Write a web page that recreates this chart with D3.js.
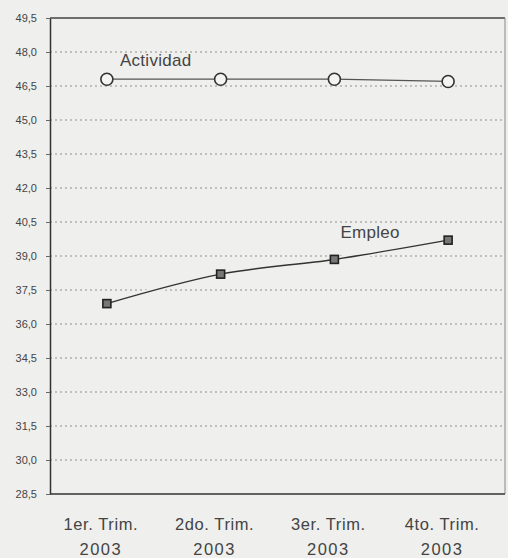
<!DOCTYPE html>
<html><head><meta charset="utf-8">
<script src="https://cdn.jsdelivr.net/npm/d3@7"></script>
<style>body{margin:0;background:#efefed;}svg{display:block;}</style>
</head><body>
<svg id="c" width="508" height="558"></svg>
<script>
const categories = ["1er. Trim.|2003","2do. Trim.|2003","3er. Trim.|2003","4to. Trim.|2003"];
const actividad = [46.8, 46.8, 46.8, 46.7];
const empleo = [36.9, 38.2, 38.85, 39.7];
const yTicks = [28.5,30.0,31.5,33.0,34.5,36.0,37.5,39.0,40.5,42.0,43.5,45.0,46.5,48.0,49.5];

const svg = d3.select("#c");
const L=50, R=505, T=18, B=494;
const FONT = "Liberation Sans, Arial, sans-serif";
const x = d3.scalePoint().domain(categories).range([L,R]).padding(0.5);
const y = d3.scaleLinear().domain([28.5,49.5]).range([B,T]);
const fmt = v => d3.format(".1f")(v).replace(".", ",");

svg.append("rect").attr("width",508).attr("height",558).attr("fill","#efefed");

// gridlines
svg.append("g").selectAll("line").data(yTicks.slice(1,-1)).join("line")
  .attr("x1",L).attr("x2",R).attr("y1",d=>y(d)).attr("y2",d=>y(d))
  .attr("stroke","#8f8f8f").attr("stroke-width",1).attr("stroke-dasharray","2,3");

// y axis
const ya = svg.append("g").attr("transform",`translate(${L},0)`)
  .call(d3.axisLeft(y).tickValues(yTicks).tickFormat(fmt).tickSize(4).tickSizeOuter(0).tickPadding(9));
ya.select(".domain").attr("stroke","#333").attr("stroke-width",1.5);
ya.selectAll(".tick line").attr("stroke","#666");
ya.selectAll("text").attr("fill","#444").attr("font-size",11).attr("font-family",FONT);

// frame top/right/bottom
svg.append("line").attr("x1",L).attr("x2",R).attr("y1",T).attr("y2",T).attr("stroke","#444").attr("stroke-width",1.5);
svg.append("line").attr("x1",R).attr("x2",R).attr("y1",T).attr("y2",B).attr("stroke","#888").attr("stroke-width",1);
svg.append("line").attr("x1",L).attr("x2",R).attr("y1",B).attr("y2",B).attr("stroke","#333").attr("stroke-width",1.5);

// x labels
const xl = svg.append("g").selectAll("text").data(categories).join("text")
  .attr("text-anchor","middle")
  .attr("fill","#444").attr("font-size",16.5).attr("font-family",FONT).attr("letter-spacing",0.6);
xl.append("tspan").attr("x",d=>x(d)-6).attr("y",530).text(d=>d.split("|")[0]);
xl.append("tspan").attr("x",d=>x(d)-6).attr("y",555).attr("letter-spacing",1.5).text(d=>d.split("|")[1]);

// Actividad line
const lineA = d3.line().x((d,i)=>x(categories[i])).y(d=>y(d));
svg.append("path").datum(actividad).attr("d",lineA).attr("fill","none").attr("stroke","#555").attr("stroke-width",1.3);
svg.append("g").selectAll("circle").data(actividad).join("circle")
  .attr("cx",(d,i)=>x(categories[i])).attr("cy",d=>y(d)).attr("r",6)
  .attr("fill","#f4f4f2").attr("stroke","#333").attr("stroke-width",1.6);

// Empleo line
const lineE = d3.line().x((d,i)=>x(categories[i])).y(d=>y(d)).curve(d3.curveCatmullRom);
svg.append("path").datum(empleo).attr("d",lineE).attr("fill","none").attr("stroke","#efefed").attr("stroke-width",5);
svg.append("path").datum(empleo).attr("d",lineE).attr("fill","none").attr("stroke","#333").attr("stroke-width",1.5);
svg.append("g").selectAll("rect").data(empleo).join("rect")
  .attr("x",(d,i)=>x(categories[i])-4).attr("y",d=>y(d)-4).attr("width",8).attr("height",8)
  .attr("fill","#777").attr("stroke","#222").attr("stroke-width",1.6);

// series labels
svg.append("text").attr("x",x(categories[0])+13).attr("y",66).text("Actividad")
  .attr("fill","#444").attr("font-size",17).attr("font-family",FONT).attr("letter-spacing",0.3);
svg.append("text").attr("x",x(categories[2])+6).attr("y",238).text("Empleo")
  .attr("fill","#444").attr("font-size",17).attr("font-family",FONT).attr("letter-spacing",0.3);
</script>
</body></html>
